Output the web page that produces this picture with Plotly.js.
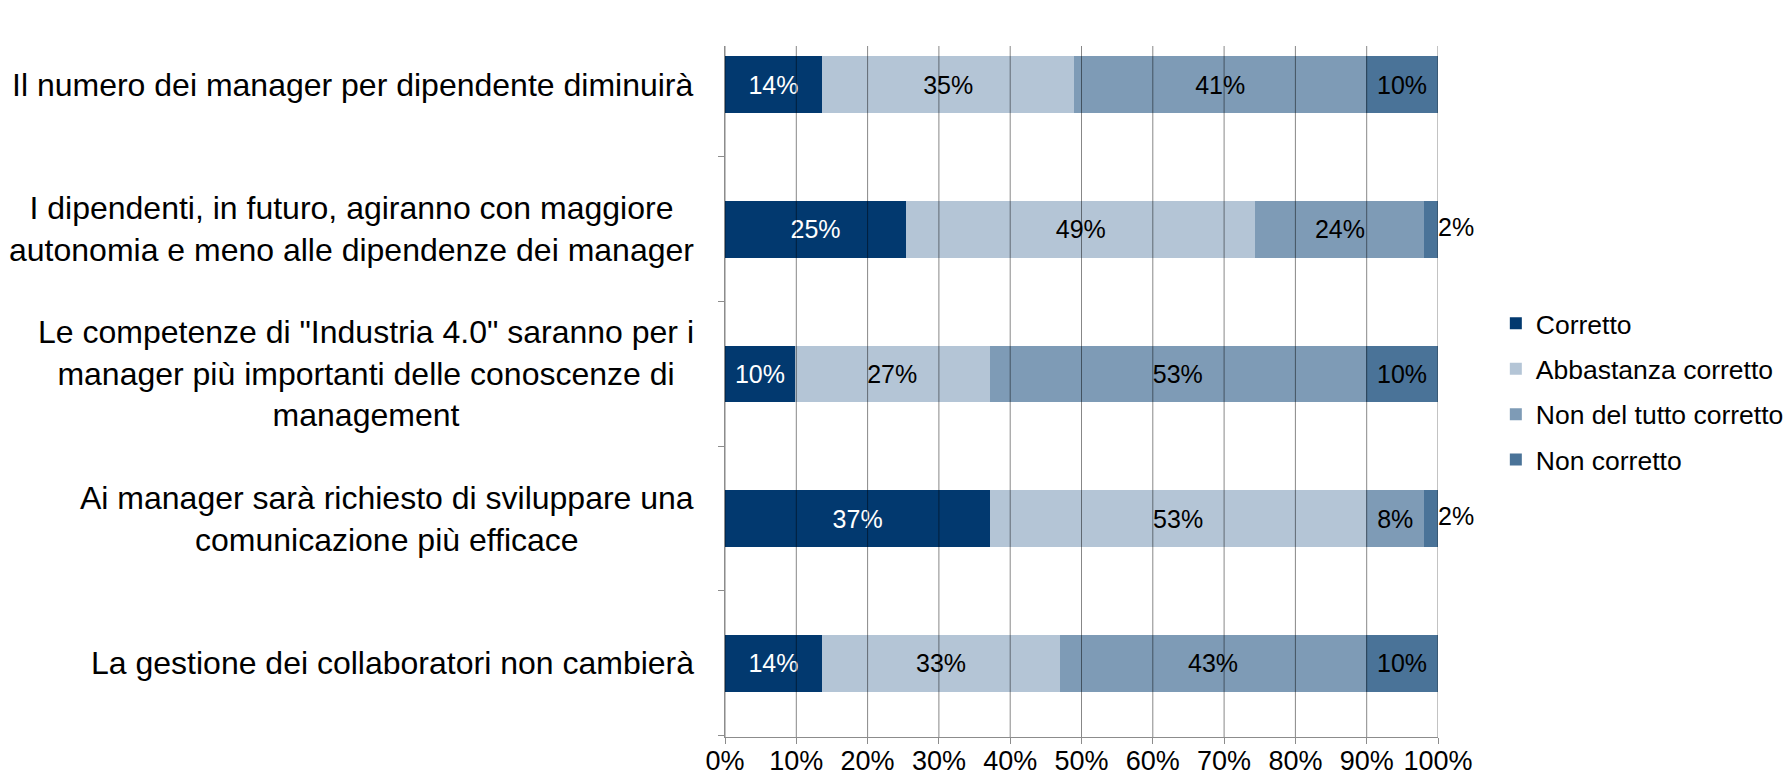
<!DOCTYPE html>
<html>
<head>
<meta charset="utf-8">
<script src="https://cdn.plot.ly/plotly-3.0.1.min.js"></script>
<style>
  html, body { margin: 0; padding: 0; background: #ffffff; }
  #chart { width: 1785px; height: 778px; }
</style>
</head>
<body>
<div id="chart"></div>
<script>
// Categories, top to bottom as they appear in the chart
const categories = [
  'Il numero dei manager per dipendente diminuirà',
  'I dipendenti, in futuro, agiranno con maggiore<br>autonomia e meno alle dipendenze dei manager',
  'Le competenze di "Industria 4.0" saranno per i<br>manager più importanti delle conoscenze di<br>management',
  'Ai manager sarà richiesto di sviluppare una<br>comunicazione più efficace',
  'La gestione dei collaboratori non cambierà'
];

const seriesNames = ['Corretto', 'Abbastanza corretto', 'Non del tutto corretto', 'Non corretto'];

// Values (percent), same order as categories
const corretto           = [13.6, 25.4,  9.8, 37.2, 13.6];
const abbastanzaCorretto = [35.4, 49.0, 27.3, 52.7, 33.4];
const nonDelTuttoCorretto= [40.9, 23.7, 52.8,  8.2, 42.9];
const nonCorretto        = [10.1,  1.9, 10.1,  1.9, 10.1];

const xTickValues = [0, 10, 20, 30, 40, 50, 60, 70, 80, 90, 100];

const colors = ['#02396f', '#b4c5d6', '#7e9bb6', '#4a7398'];
const labelColors = ['#ffffff', '#000000', '#000000', '#000000'];
const FONT = 'Liberation Sans, Arial, sans-serif';
const SMALL = 5; // segments narrower than this get their label outside the bar

const seriesValues = [corretto, abbastanzaCorretto, nonDelTuttoCorretto, nonCorretto];

const traces = seriesValues.map((vals, i) => ({
  type: 'bar',
  orientation: 'h',
  name: seriesNames[i],
  legendgroup: 'g' + i,
  y: categories,
  x: vals,
  marker: { color: colors[i], line: { width: 0 } },
  text: vals.map(v => (v < SMALL ? '' : Math.round(v) + '%')),
  textposition: 'inside',
  insidetextanchor: 'middle',
  insidetextfont: { family: FONT, size: 25, color: labelColors[i] },
  textangle: 0,
  constraintext: 'none',
  cliponaxis: false,
  hoverinfo: 'skip'
}));

// Labels for the thin last segments, written just past the end of the stacked bar
const stackTotals = categories.map((c, k) =>
  Math.round(seriesValues.reduce((s, arr) => s + arr[k], 0) * 1000) / 1000);
traces.push({
  type: 'scatter',
  mode: 'text',
  showlegend: false,
  y: categories,
  x: stackTotals,
  text: nonCorretto.map(v => (v < SMALL ? Math.round(v) + '%' : '')),
  textposition: 'middle right',
  textfont: { family: FONT, size: 25, color: '#000000' },
  cliponaxis: false,
  hoverinfo: 'skip'
});

const gridShapes = xTickValues.map(v => ({
  type: 'line', xref: 'x', yref: 'paper',
  x0: v, x1: v, y0: 0, y1: 1,
  layer: 'above',
  line: { color: 'rgba(0,0,0,0.47)', width: 1 }
}));

const labelAnnotations = categories.map(c => ({
  xref: 'paper', yref: 'y', x: 0, y: c,
  xanchor: 'right', yanchor: 'middle', xshift: -29,
  align: 'center', showarrow: false,
  text: c,
  font: { family: FONT, size: 32, color: '#000000' }
}));

const layout = {
  width: 1785, height: 778,
  paper_bgcolor: '#ffffff', plot_bgcolor: '#ffffff',
  margin: { l: 725, r: 347, t: 45.5, b: 41, pad: 0 },
  barmode: 'stack',
  bargap: 0.607,
  font: { family: FONT, color: '#000000' },
  xaxis: {
    range: [0, 100],
    tickvals: xTickValues,
    ticktext: xTickValues.map(v => v + '%'),
    showgrid: false,
    zeroline: false,
    showline: true, linecolor: '#8c8c8c', linewidth: 1,
    ticks: 'outside', ticklen: 6, tickcolor: '#8c8c8c', tickwidth: 1,
    ticklabelstandoff: -6,
    tickfont: { family: FONT, size: 27, color: '#000000' },
    fixedrange: true
  },
  yaxis: {
    type: 'category',
    categoryorder: 'array',
    categoryarray: categories.slice().reverse(),
    range: [-0.51, 4.267],
    showgrid: false,
    zeroline: false,
    showline: true, linecolor: '#8c8c8c', linewidth: 1,
    ticks: 'outside', ticklen: 6, tickcolor: '#8c8c8c', tickwidth: 1,
    tickson: 'boundaries',
    showticklabels: false,
    fixedrange: true
  },
  legend: {
    xref: 'container', x: 0.838, xanchor: 'left',
    yref: 'paper', y: 0.5, yanchor: 'middle',
    orientation: 'v',
    traceorder: 'grouped',
    tracegroupgap: 8,
    font: { family: FONT, size: 26.5, color: '#000000' },
    bgcolor: 'rgba(0,0,0,0)'
  },
  shapes: gridShapes,
  annotations: labelAnnotations,
  showlegend: true
};

Plotly.newPlot('chart', traces, layout, { displayModeBar: false, staticPlot: true });
</script>
</body>
</html>
